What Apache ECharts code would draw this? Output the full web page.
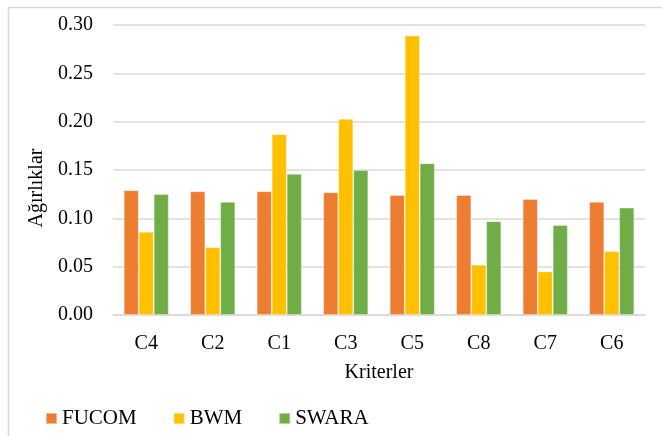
<!DOCTYPE html>
<html>
<head>
<meta charset="utf-8">
<script src="https://cdn.jsdelivr.net/npm/echarts@6/dist/echarts.min.js"></script>
<style>
  html, body { margin: 0; padding: 0; background: #fff; }
  #chart { width: 662px; height: 436px; }
</style>
</head>
<body>
<div id="chart"></div>
<script>
// Criteria in display order
const categories = ['C4', 'C2', 'C1', 'C3', 'C5', 'C8', 'C7', 'C6'];

// Criterion weights from each method
const fucom = [0.129, 0.128, 0.128, 0.127, 0.124, 0.124, 0.120, 0.117];
const bwm   = [0.086, 0.070, 0.187, 0.203, 0.289, 0.052, 0.045, 0.066];
const swara = [0.125, 0.117, 0.146, 0.150, 0.157, 0.097, 0.093, 0.111];

// Y-axis tick labels
const yTicks = ['0.00', '0.05', '0.10', '0.15', '0.20', '0.25', '0.30'];

const FONT = '"Liberation Serif", "Times New Roman", serif';
const chart = echarts.init(document.getElementById('chart'), null, { renderer: 'canvas' });

function barSeries(name, data, color) {
  return {
    name: name,
    type: 'bar',
    data: data,
    barWidth: 15,
    barGap: '0%',
    itemStyle: { color: color, borderColor: 'rgba(255,255,255,0.45)', borderWidth: 0.8 },
    emphasis: { disabled: true }
  };
}

chart.setOption({
  animation: false,
  backgroundColor: '#fff',
  textStyle: { fontFamily: FONT, color: '#000' },
  graphic: [{
    type: 'rect',
    left: 6, top: 5,
    shape: { width: 680, height: 430 },
    style: { fill: 'none', stroke: '#d9d9d9', lineWidth: 1.5 },
    silent: true
  }],
  grid: { left: 113, right: 17, top: 25, bottom: 121, containLabel: false },
  legend: {
    left: 45, top: 408,
    padding: 0,
    itemWidth: 11, itemHeight: 11, itemGap: 36,
    icon: 'rect',
    textStyle: { fontFamily: FONT, fontSize: 21, color: '#000' },
    data: ['FUCOM', 'BWM', 'SWARA']
  },
  xAxis: {
    type: 'category',
    data: categories,
    name: 'Kriterler',
    nameLocation: 'middle',
    nameGap: 48,
    nameTextStyle: { fontFamily: FONT, fontSize: 20, color: '#000' },
    axisLine: { lineStyle: { color: '#d9d9d9', width: 1.5 } },
    axisTick: { show: false },
    axisLabel: { fontFamily: FONT, fontSize: 20, color: '#000', margin: 19 }
  },
  yAxis: {
    type: 'value',
    min: 0, max: 0.30, interval: 0.05,
    name: 'Ağırlıklar',
    nameLocation: 'middle',
    nameGap: 61,
    nameRotate: 90,
    nameTextStyle: { fontFamily: FONT, fontSize: 20, color: '#000', padding: [0, 36, 0, 0] },
    axisLine: { show: false },
    axisTick: { show: false },
    splitLine: { lineStyle: { color: '#d9d9d9', width: 1.5 } },
    axisLabel: {
      fontFamily: FONT, fontSize: 20, color: '#000', margin: 20,
      formatter: function (v) { return yTicks[Math.round(v / 0.05)]; }
    }
  },
  series: [
    barSeries('FUCOM', fucom, '#ED7D31'),
    barSeries('BWM', bwm, '#FFC000'),
    barSeries('SWARA', swara, '#70AD47')
  ]
});
</script>
</body>
</html>
